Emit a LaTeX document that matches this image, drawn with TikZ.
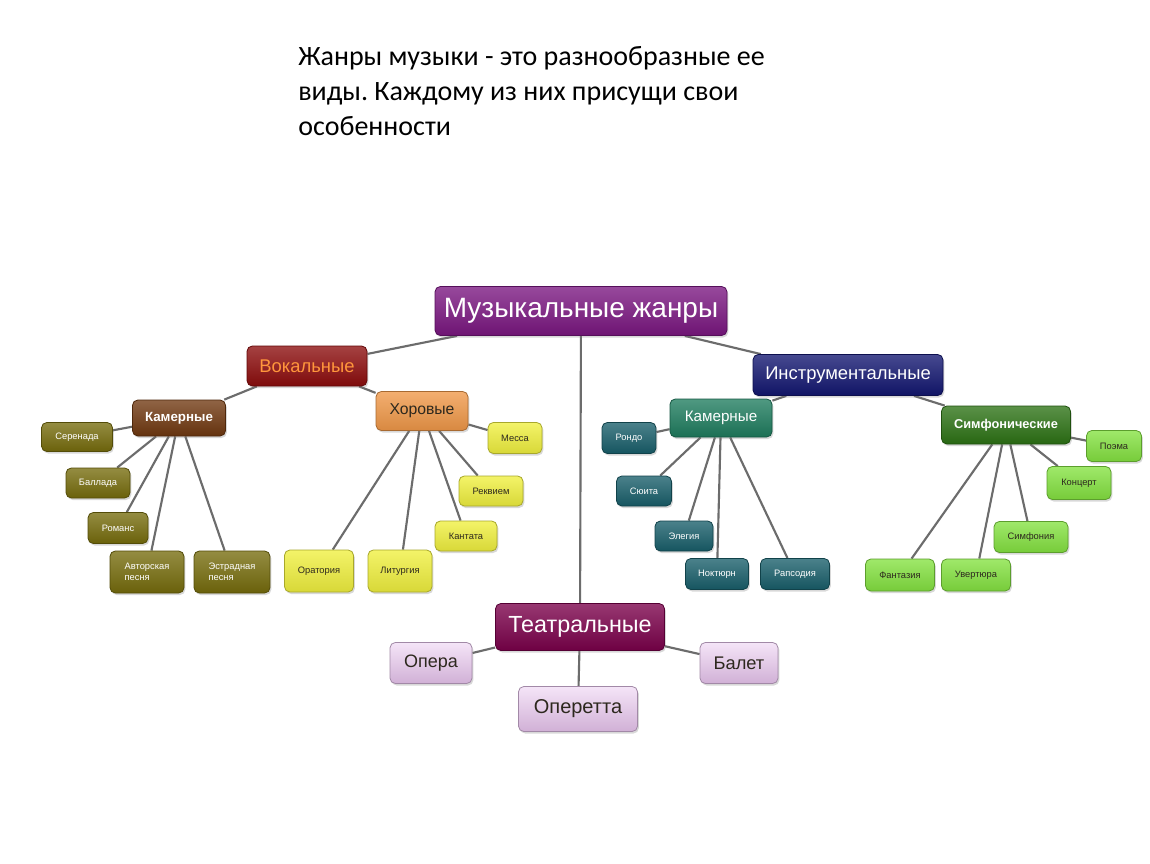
\documentclass[tikz,border=0pt]{standalone}
\usepackage{fontspec}
\setmainfont{Liberation Sans}
\newfontfamily\headfont{Carlito}
\usetikzlibrary{shadows,backgrounds}
\frenchspacing

\definecolor{mjPurple}{RGB}{122,22,128}
\definecolor{vokRed}{RGB}{140,12,12}
\definecolor{vokText}{RGB}{255,150,60}
\definecolor{instrBlue}{RGB}{18,22,112}
\definecolor{teatrPlum}{RGB}{122,0,74}
\definecolor{kamBrown}{RGB}{112,56,16}
\definecolor{horOrange}{RGB}{240,152,72}
\definecolor{leafOlive}{RGB}{118,108,12}
\definecolor{leafYellow}{RGB}{240,240,62}
\definecolor{kamTeal}{RGB}{30,124,94}
\definecolor{leafTeal}{RGB}{24,94,106}
\definecolor{simfGreen}{RGB}{44,114,20}
\definecolor{leafGreen}{RGB}{132,226,64}
\definecolor{leafPink}{RGB}{232,196,238}
\definecolor{linkGray}{RGB}{108,108,108}
\definecolor{darkText}{RGB}{45,40,30}

\tikzset{
  box/.style={draw=#1!70!black, line width=0.6pt, rounded corners=4pt,
    top color=#1!78!white, bottom color=#1!90!black, inner sep=2pt,
    drop shadow={opacity=0.3, shadow xshift=1pt, shadow yshift=-1.5pt}},
  sz/.style 2 args={minimum width=#1*0.75pt, minimum height=#2*0.75pt},
  link/.style={draw=linkGray, line width=1.6pt},
  topbox/.style={box=mjPurple, text=white, font=\fontsize{21}{24}\selectfont},
  vokbox/.style={box=vokRed, text=vokText, font=\fontsize{13.8}{16}\selectfont},
  instrbox/.style={box=instrBlue, text=white, font=\fontsize{13.8}{16}\selectfont},
  teatrbox/.style={box=teatrPlum, text=white, font=\fontsize{17.5}{20}\selectfont},
  kamvbox/.style={box=kamBrown, text=white, font=\bfseries\fontsize{10}{12}\selectfont},
  horbox/.style={box=horOrange, text=darkText, font=\fontsize{11.8}{14}\selectfont},
  kamibox/.style={box=kamTeal, text=white, font=\fontsize{11.4}{13}\selectfont},
  simfbox/.style={box=simfGreen, text=white, font=\bfseries\fontsize{9.6}{11}\selectfont},
  olivebox/.style={box=leafOlive, text=white, align=left, font=\fontsize{7}{8.5}\selectfont},
  yellowbox/.style={box=leafYellow, text=darkText, font=\fontsize{7}{8.5}\selectfont},
  tealbox/.style={box=leafTeal, text=white, font=\fontsize{7}{8.5}\selectfont},
  greenbox/.style={box=leafGreen, text=darkText, font=\fontsize{7}{8.5}\selectfont},
  pinkbox/.style={box=leafPink, top color=leafPink!45!white, text=darkText},
}

\begin{document}
\begin{tikzpicture}[x=0.75pt, y=-0.75pt]
\useasboundingbox (0,0) rectangle (1150,864);

% heading
\node[anchor=north west, align=left, inner sep=0pt,
  font=\headfont\fontsize{21}{26.25}\selectfont] (head) at (298,46)
  {Жанры музыки - это разнообразные ее\\виды. Каждому из них присущи свои\\особенности};

% main levels
\node[topbox, sz={292}{49}] (root) at (581,311) {Музыкальные жанры};
\node[vokbox, sz={120}{40}] (vok) at (307,366) {Вокальные};
\node[instrbox, sz={190}{41}] (instr) at (848,375) {Инструментальные};
\node[teatrbox, sz={169}{47}] (teatr) at (580,627) {Театральные};

% second level
\node[kamvbox, sz={93}{36}] (kamV) at (179,418) {Камерные};
\node[horbox, sz={92}{39}] (hor) at (422,411) {Хоровые};
\node[kamibox, sz={102}{38}] (kamI) at (721,418) {Камерные};
\node[simfbox, sz={129}{38}] (simf) at (1006,425) {Симфонические};

% vocal, chamber
\node[olivebox, sz={71}{29}] (ser) at (77,437) {Серенада};
\node[olivebox, sz={64}{30}] (bal) at (98,483) {Баллада};
\node[olivebox, sz={60}{31}] (rom) at (118,528) {Романс};
\node[olivebox, sz={74}{42}] (avt) at (147,572) {Авторская\\песня};
\node[olivebox, sz={76}{42}] (est) at (232,572) {Эстрадная\\песня};

% vocal, choral
\node[yellowbox, sz={54}{31}] (mes) at (515,438) {Месса};
\node[yellowbox, sz={64}{30}] (rek) at (491,491) {Реквием};
\node[yellowbox, sz={62}{30}] (kan) at (466,536) {Кантата};
\node[yellowbox, sz={69}{42}] (ora) at (319,571) {Оратория};
\node[yellowbox, sz={64}{42}] (lit) at (400,571) {Литургия};

% instrumental, chamber
\node[tealbox, sz={54}{31}] (ron) at (629,438) {Рондо};
\node[tealbox, sz={55}{30}] (syu) at (644,491) {Сюита};
\node[tealbox, sz={58}{30}] (ele) at (684,536) {Элегия};
\node[tealbox, sz={63}{31}] (nok) at (717,574) {Ноктюрн};
\node[tealbox, sz={69}{31}] (rap) at (795,574) {Рапсодия};

% instrumental, symphonic
\node[greenbox, sz={55}{31}] (poe) at (1114,446) {Поэма};
\node[greenbox, sz={64}{33}] (kon) at (1079,483) {Концерт};
\node[greenbox, sz={74}{31}] (sym) at (1031,537) {Симфония};
\node[greenbox, sz={69}{32}] (fan) at (900,575) {Фантазия};
\node[greenbox, sz={69}{32}] (uve) at (976,575) {Увертюра};

% theatre
\node[pinkbox, sz={82}{41}, font=\fontsize{13.5}{16}\selectfont] (ope) at (431,663) {Опера};
\node[pinkbox, sz={78}{41}, font=\fontsize{13.7}{16}\selectfont] (bale) at (739,663) {Балет};
\node[pinkbox, sz={119}{45}, font=\fontsize{15}{18}\selectfont] (oper) at (578,709) {Оперетта};

% connectors
\begin{scope}[on background layer]
\fill[white] (0,0) rectangle (1150,864);
\foreach \a/\b in {root/vok, root/instr, root/teatr, vok/kamV, vok/hor,
  instr/kamI, instr/simf, teatr/ope, teatr/bale, teatr/oper}
  \draw[link] (\a) -- (\b);
\foreach \b in {ser, bal, rom, avt, est} \draw[link] (kamV) -- (\b);
\foreach \b in {mes, rek, kan, ora, lit} \draw[link] (hor) -- (\b);
\foreach \b in {ron, syu, ele, nok, rap} \draw[link] (kamI) -- (\b);
\foreach \b in {poe, kon, sym, fan, uve} \draw[link] (simf) -- (\b);
\end{scope}
\end{tikzpicture}
\end{document}
